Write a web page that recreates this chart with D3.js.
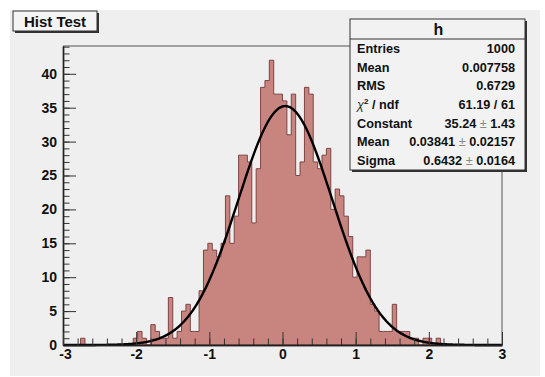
<!DOCTYPE html>
<html><head><meta charset="utf-8">
<script src="https://cdn.jsdelivr.net/npm/d3@7"></script>
<style>
html,body{margin:0;padding:0;background:#fff;}
svg{display:block;font-family:"Liberation Sans",Arial,Helvetica,sans-serif;}
</style></head><body>
<svg id="c" width="545" height="377"></svg>
<script>
// Histogram "h": 100 equal bins on [-3, 3]
const xRange = [-3, 3];
const binCounts = [
  0, 0, 0, 0, 1, 0, 0, 0, 0, 0,
  0, 0, 0, 0, 0, 0, 1, 2, 1, 0,
  3, 2, 1, 1, 7, 1, 2, 5, 6, 2,
  2, 8, 14, 15, 14, 13, 15, 22, 15, 19,
  28, 28, 27, 18, 26, 38, 39, 42, 37, 37,
  36, 31, 37, 25, 27, 38, 37, 27, 26, 28,
  29, 20, 23, 22, 19, 16, 10, 13, 13, 14,
  6, 5, 2, 2, 2, 6, 2, 2, 2, 1,
  1, 0, 1, 1, 0, 1, 0, 0, 0, 0,
  0, 0, 0, 0, 0, 0, 0, 0, 0, 0
];
const xTicks = [-3, -2, -1, 0, 1, 2, 3];
const yTicks = [0, 5, 10, 15, 20, 25, 30, 35, 40];

// Gaussian fit result
const fitConstant = 35.24;
const fitMean = 0.03841;
const fitSigma = 0.6432;

// Statistics box
const statsTitle = "h";
const statLabels = ["Entries", "Mean", "RMS", "chi2", "Constant", "Mean", "Sigma"];
const statValues = [["1000"], ["0.007758"], ["0.6729"], ["61.19 / 61"],
                    ["35.24", "1.43"], ["0.03841", "0.02157"], ["0.6432", "0.0164"]];
const chartTitle = "Hist Test";

const svg = d3.select("#c");
const F = {l: 63, r: 502, t: 46, b: 345};

// pad
svg.append("rect").attr("x", 10).attr("y", 10).attr("width", 530).attr("height", 366)
  .attr("fill", "#efefef");

const nBins = binCounts.length;
const bw = (xRange[1] - xRange[0]) / nBins;
const yMax = d3.max(binCounts) * 1.05;

const x = d3.scaleLinear().domain(xRange).range([F.l, F.r]);
const y = d3.scaleLinear().domain([0, yMax]).range([F.b, F.t]);

// step outline of the histogram
const pts = [[x(xRange[0]), y(0)]];
binCounts.forEach((c, i) => {
  const lo = xRange[0] + i * bw, hi = lo + bw;
  pts.push([x(lo), y(c)], [x(hi), y(c)]);
});
pts.push([x(xRange[1]), y(0)]);
svg.append("path")
  .attr("d", d3.line()(pts) + "Z")
  .attr("fill", "#c8857f")
  .attr("stroke", "#7d4545")
  .attr("stroke-width", 1);

// fit curve
const fx = d3.range(0, 601).map(k => xRange[0] + k * (xRange[1] - xRange[0]) / 600);
const gauss = v => fitConstant * Math.exp(-0.5 * Math.pow((v - fitMean) / fitSigma, 2));
svg.append("path")
  .attr("d", d3.line().x(v => x(v)).y(v => y(gauss(v)))(fx))
  .attr("fill", "none").attr("stroke", "#000").attr("stroke-width", 2.4);

// frame top/right
svg.append("path")
  .attr("d", `M${F.l},${F.t}H${F.r}V${F.b}`)
  .attr("fill", "none").attr("stroke", "#555").attr("stroke-width", 1);

// axes: ticks point into the frame
const intFmt = d => String(d);
const yMinor = d3.range(0, Math.floor(yMax) + 1);
svg.append("g").attr("transform", `translate(${F.l},0)`)
  .call(d3.axisLeft(y).tickValues(yMinor).tickFormat("").tickSizeInner(-6.5).tickSizeOuter(0));
svg.append("g").attr("transform", `translate(${F.l},0)`)
  .call(d3.axisLeft(y).tickValues(yTicks).tickFormat(intFmt).tickSizeInner(-13).tickSizeOuter(0).tickPadding(6));

const xMinor = d3.range(0, 31).map(k => xRange[0] + k * 0.2);
svg.append("g").attr("transform", `translate(0,${F.b})`)
  .call(d3.axisBottom(x).tickValues(xMinor).tickFormat("").tickSizeInner(-6.5).tickSizeOuter(0));
const xMaj = svg.append("g").attr("transform", `translate(0,${F.b})`)
  .call(d3.axisBottom(x).tickValues(xTicks).tickFormat(intFmt).tickSizeInner(-13).tickSizeOuter(0).tickPadding(4));
xMaj.selectAll(".tick text").filter(d => d === xRange[0]).attr("dx", 2);

svg.selectAll(".domain").attr("stroke", "#222").attr("stroke-width", 1.4);
svg.selectAll(".tick line").attr("stroke", "#333");
svg.selectAll(".tick text")
  .attr("font-family", "Liberation Sans, Arial, sans-serif")
  .attr("font-size", 14).attr("font-weight", "bold").attr("fill", "#111");

// title box
const tb = {x: 13, y: 11, w: 84, h: 20};
svg.append("rect").attr("x", tb.x + 2).attr("y", tb.y + 2).attr("width", tb.w).attr("height", tb.h).attr("fill", "#333");
svg.append("rect").attr("x", tb.x).attr("y", tb.y).attr("width", tb.w).attr("height", tb.h)
  .attr("fill", "#f4f4f4").attr("stroke", "#333").attr("stroke-width", 1);
svg.append("text").attr("x", tb.x + tb.w / 2).attr("y", 27)
  .attr("text-anchor", "middle").attr("font-size", 15).attr("font-weight", "bold").attr("fill", "#111")
  .text(chartTitle);

// statistics box
const sb = {x: 350, y: 19, w: 175, h: 151, head: 20};
svg.append("rect").attr("x", sb.x + 2).attr("y", sb.y + 2).attr("width", sb.w).attr("height", sb.h).attr("fill", "#333");
svg.append("rect").attr("x", sb.x).attr("y", sb.y).attr("width", sb.w).attr("height", sb.h)
  .attr("fill", "#f2f2f2").attr("stroke", "#333").attr("stroke-width", 1);
svg.append("line").attr("x1", sb.x).attr("x2", sb.x + sb.w)
  .attr("y1", sb.y + sb.head).attr("y2", sb.y + sb.head).attr("stroke", "#333");
svg.append("text").attr("x", sb.x + sb.w / 2 + 1).attr("y", sb.y + 16)
  .attr("text-anchor", "middle").attr("font-size", 16).attr("font-weight", "bold").attr("fill", "#111")
  .text(statsTitle);

const rowH = (sb.h - sb.head) / statLabels.length;
statLabels.forEach((lab, i) => {
  const by = sb.y + sb.head + rowH * (i + 0.5) + 4.5;
  const t = svg.append("text").attr("x", sb.x + 7).attr("y", by)
    .attr("font-size", 12.7).attr("font-weight", "bold").attr("fill", "#111");
  if (lab === "chi2") {
    t.append("tspan").attr("font-style", "italic").attr("font-weight", "normal").attr("fill", "#333").text("χ");
    t.append("tspan").attr("font-size", 8).attr("dy", -5).text("2");
    t.append("tspan").attr("dy", 5).text(" / ndf");
  } else {
    t.text(lab);
  }
  const v = svg.append("text").attr("x", sb.x + sb.w - 10).attr("y", by)
    .attr("text-anchor", "end").attr("font-size", 12.7).attr("font-weight", "bold").attr("fill", "#111");
  const vals = statValues[i];
  v.append("tspan").text(vals[0]);
  if (vals.length > 1) {
    v.append("tspan").attr("font-weight", "normal").attr("fill", "#888").text(" ± ");
    v.append("tspan").text(vals[1]);
  }
});
</script>
</body></html>
